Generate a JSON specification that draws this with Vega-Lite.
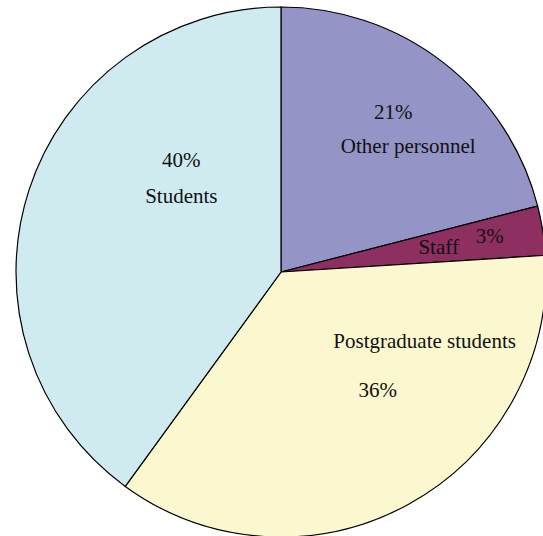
{
  "$schema": "https://vega.github.io/schema/vega-lite/v6.json",
  "width": 526,
  "height": 528,
  "autosize": {"type": "none"},
  "padding": {"left": 18, "top": 8, "right": 0, "bottom": 0},
  "background": "white",
  "view": {"stroke": null},
  "config": {"text": {"font": "Liberation Serif", "fontSize": 21, "color": "#111111"}},
  "data": {
    "values": [
      {"cat": "Other personnel", "pct": "21%", "value": 21, "idx": 1},
      {"cat": "Staff", "pct": "3%", "value": 3, "idx": 2},
      {"cat": "Postgraduate students", "pct": "36%", "value": 36, "idx": 3},
      {"cat": "Students", "pct": "40%", "value": 40, "idx": 4}
    ]
  },
  "encoding": {
    "theta": {"field": "value", "type": "quantitative", "stack": true},
    "order": {"field": "idx", "type": "quantitative"}
  },
  "layer": [
    {
      "mark": {"type": "arc", "radius": 265, "stroke": "black", "strokeWidth": 1.2},
      "encoding": {
        "color": {
          "field": "cat", "type": "nominal", "legend": null,
          "scale": {
            "domain": ["Other personnel", "Staff", "Postgraduate students", "Students"],
            "range": ["#9494c7", "#8d2f60", "#fbf8cf", "#cfebf0"]
          }
        }
      }
    },
    {
      "mark": {"type": "text", "radius": 170, "dx": 8, "dy": -25},
      "encoding": {"detail": {"field": "cat"}, "text": {"condition": {"test": "datum.cat === 'Other personnel'", "field": "pct"}, "value": ""}}
    },
    {
      "mark": {"type": "text", "radius": 170, "dx": 23, "dy": 9},
      "encoding": {"detail": {"field": "cat"}, "text": {"condition": {"test": "datum.cat === 'Other personnel'", "field": "cat"}, "value": ""}}
    },
    {
      "mark": {"type": "text", "radius": 190, "dx": -30, "dy": 6},
      "encoding": {"detail": {"field": "cat"}, "text": {"condition": {"test": "datum.cat === 'Staff'", "field": "cat"}, "value": ""}}
    },
    {
      "mark": {"type": "text", "radius": 190, "dx": 21, "dy": -5},
      "encoding": {"detail": {"field": "cat"}, "text": {"condition": {"test": "datum.cat === 'Staff'", "field": "pct"}, "value": ""}}
    },
    {
      "mark": {"type": "text", "radius": 130, "dx": 81, "dy": -44},
      "encoding": {"detail": {"field": "cat"}, "text": {"condition": {"test": "datum.cat === 'Postgraduate students'", "field": "cat"}, "value": ""}}
    },
    {
      "mark": {"type": "text", "radius": 130, "dx": 34, "dy": 5},
      "encoding": {"detail": {"field": "cat"}, "text": {"condition": {"test": "datum.cat === 'Postgraduate students'", "field": "pct"}, "value": ""}}
    },
    {
      "mark": {"type": "text", "radius": 150, "dx": 43, "dy": -65},
      "encoding": {"detail": {"field": "cat"}, "text": {"condition": {"test": "datum.cat === 'Students'", "field": "pct"}, "value": ""}}
    },
    {
      "mark": {"type": "text", "radius": 150, "dx": 43, "dy": -29},
      "encoding": {"detail": {"field": "cat"}, "text": {"condition": {"test": "datum.cat === 'Students'", "field": "cat"}, "value": ""}}
    }
  ]
}
